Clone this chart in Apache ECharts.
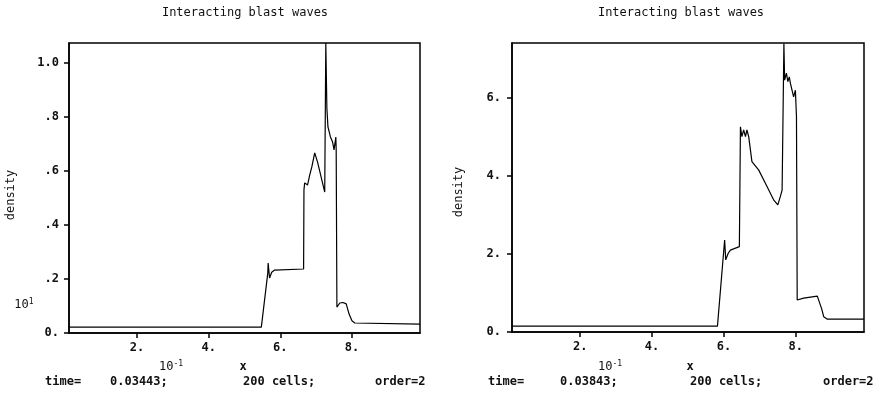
<!DOCTYPE html>
<html>
<head>
<meta charset="utf-8">
<script src="https://cdn.jsdelivr.net/npm/echarts@6/dist/echarts.min.js"></script>
<style>html,body{margin:0;padding:0;background:#fff;}#c{width:887px;height:400px;}</style>
</head>
<body>
<div id="c"></div>
<script>
// Left panel: time = 0.03443 (density axis scaled by 10^1)
const xLeft = [0.01, 0.547, 0.565, 0.566, 0.570, 0.576, 0.584, 0.665, 0.666, 0.668, 0.676, 0.682, 0.688, 0.696, 0.704, 0.724, 0.727, 0.730, 0.733, 0.740, 0.746, 0.750, 0.755, 0.756, 0.758, 0.766, 0.775, 0.784, 0.792, 0.800, 0.808, 0.99];
const yLeft = [0.022, 0.022, 0.222, 0.259, 0.204, 0.225, 0.233, 0.237, 0.530, 0.556, 0.548, 0.585, 0.615, 0.667, 0.633, 0.522, 1.074, 0.833, 0.763, 0.726, 0.707, 0.678, 0.726, 0.678, 0.096, 0.111, 0.113, 0.108, 0.070, 0.045, 0.037, 0.033];
// Right panel: time = 0.03843
const xRight = [0.01, 0.582, 0.602, 0.605, 0.612, 0.618, 0.643, 0.646, 0.650, 0.655, 0.660, 0.664, 0.669, 0.678, 0.697, 0.720, 0.739, 0.750, 0.757, 0.762, 0.767, 0.769, 0.774, 0.778, 0.782, 0.785, 0.794, 0.799, 0.802, 0.804, 0.822, 0.860, 0.864, 0.872, 0.878, 0.888, 0.99];
const yRight = [0.15, 0.15, 2.36, 1.85, 2.02, 2.10, 2.19, 5.26, 5.01, 5.18, 5.01, 5.18, 5.01, 4.37, 4.15, 3.73, 3.38, 3.26, 3.47, 3.64, 7.40, 6.46, 6.64, 6.42, 6.54, 6.38, 6.03, 6.20, 5.52, 0.82, 0.87, 0.92, 0.90, 0.60, 0.39, 0.33, 0.33];
const xTicks = [0.2, 0.4, 0.6, 0.8];
const yTicksLeft = [0, 0.2, 0.4, 0.6, 0.8, 1.0];
const yTicksRight = [0, 2, 4, 6];
const titleText = 'Interacting blast waves';
const yName = 'density';
const timesText = ['0.03443;', '0.03843;'];
const cellsText = '200 cells;';
const orderText = 'order=2';

const FONT = 'DejaVu Sans Mono';
const txtColor = '#111';

function zip(a, b) { return a.map((v, i) => [v, b[i]]); }

function xAxisCfg(gi) {
  return {
    gridIndex: gi, type: 'value', min: 0.01, max: 0.99,
    axisLine: { show: true, lineStyle: { color: '#000', width: 1.5 } },
    axisTick: { show: true, customValues: xTicks, length: 5, inside: false, lineStyle: { color: '#000', width: 1.5 } },
    axisLabel: { customValues: xTicks, formatter: v => Math.round(v * 10) + '.', margin: 9, color: txtColor, fontFamily: FONT, fontWeight: 'bold', fontSize: 12 },
    splitLine: { show: false }
  };
}
function yAxisCfg(gi, max, ticks, fmt, margin) {
  return {
    gridIndex: gi, type: 'value', min: 0, max: max,
    axisLine: { show: true, lineStyle: { color: '#000', width: 1.5 } },
    axisTick: { show: true, customValues: ticks, length: 5, inside: false, lineStyle: { color: '#000', width: 1.5 } },
    axisLabel: { customValues: ticks, formatter: fmt, margin: margin, color: txtColor, fontFamily: FONT, fontWeight: 'bold', fontSize: 12 },
    splitLine: { show: false }
  };
}
const fmtLeft = v => {
  if (Math.abs(v) < 1e-9) return '0.';
  if (Math.abs(v - 1) < 1e-9) return '1.0';
  return '.' + Math.round(v * 10);
};
const fmtRight = v => Math.round(v) + '.';

const textStyleBase = { fill: txtColor, fontFamily: FONT, fontWeight: 'bold', fontSize: 12 };
function t(x, y, text, align, extra) {
  return { type: 'text', x: x, y: y, style: Object.assign({}, textStyleBase, { text: text, align: align || 'left', verticalAlign: 'middle' }, extra || {}) };
}
function rotText(x, y, text) {
  return { type: 'text', x: x, y: y, rotation: Math.PI / 2, style: Object.assign({}, textStyleBase, { text: text, align: 'center', verticalAlign: 'middle', fontWeight: 'normal', fontSize: 12 }) };
}
function powText(x, y, exp) {
  return { type: 'text', x: x, y: y, style: Object.assign({}, textStyleBase, {
    text: '{b|10}{s|' + exp + '}', align: 'center', verticalAlign: 'middle', fontWeight: 'normal',
    rich: { b: { fontFamily: FONT, fontSize: 12, fill: txtColor, color: txtColor }, s: { fontFamily: FONT, fontSize: 8, verticalAlign: 'top', padding: [0, 0, 6, 0], fill: txtColor, color: txtColor } }
  }) };
}

const chart = echarts.init(document.getElementById('c'), null, { renderer: 'canvas' });
chart.setOption({
  animation: false,
  backgroundColor: '#fff',
  grid: [
    { left: 69, top: 43, width: 351, height: 290, show: true, borderColor: '#000', borderWidth: 1.5, backgroundColor: 'transparent' },
    { left: 512, top: 43, width: 352, height: 289, show: true, borderColor: '#000', borderWidth: 1.5, backgroundColor: 'transparent' }
  ],
  xAxis: [xAxisCfg(0), xAxisCfg(1)],
  yAxis: [
    yAxisCfg(0, 1.074, yTicksLeft, fmtLeft, 10),
    yAxisCfg(1, 7.41, yTicksRight, fmtRight, 11)
  ],
  series: [
    { type: 'line', xAxisIndex: 0, yAxisIndex: 0, data: zip(xLeft, yLeft), showSymbol: false, lineStyle: { color: '#000', width: 1.2 }, clip: true },
    { type: 'line', xAxisIndex: 1, yAxisIndex: 1, data: zip(xRight, yRight), showSymbol: false, lineStyle: { color: '#000', width: 1.2 }, clip: true }
  ],
  graphic: [
    t(245, 13, titleText, 'center', { fontWeight: 'normal', fontSize: 12 }),
    t(681, 13, titleText, 'center', { fontWeight: 'normal', fontSize: 12 }),
    rotText(11, 195, yName),
    rotText(459, 192, yName),
    powText(24, 305, '1'),
    powText(171, 367, '-1'),
    powText(610, 367, '-1'),
    t(243, 367, 'x', 'center'),
    t(690, 367, 'x', 'center'),
    t(45, 382, 'time='),
    t(110, 382, timesText[0]),
    t(243, 382, cellsText),
    t(375, 382, orderText),
    t(488, 382, 'time='),
    t(560, 382, timesText[1]),
    t(690, 382, cellsText),
    t(823, 382, orderText)
  ]
});
</script>
</body>
</html>
